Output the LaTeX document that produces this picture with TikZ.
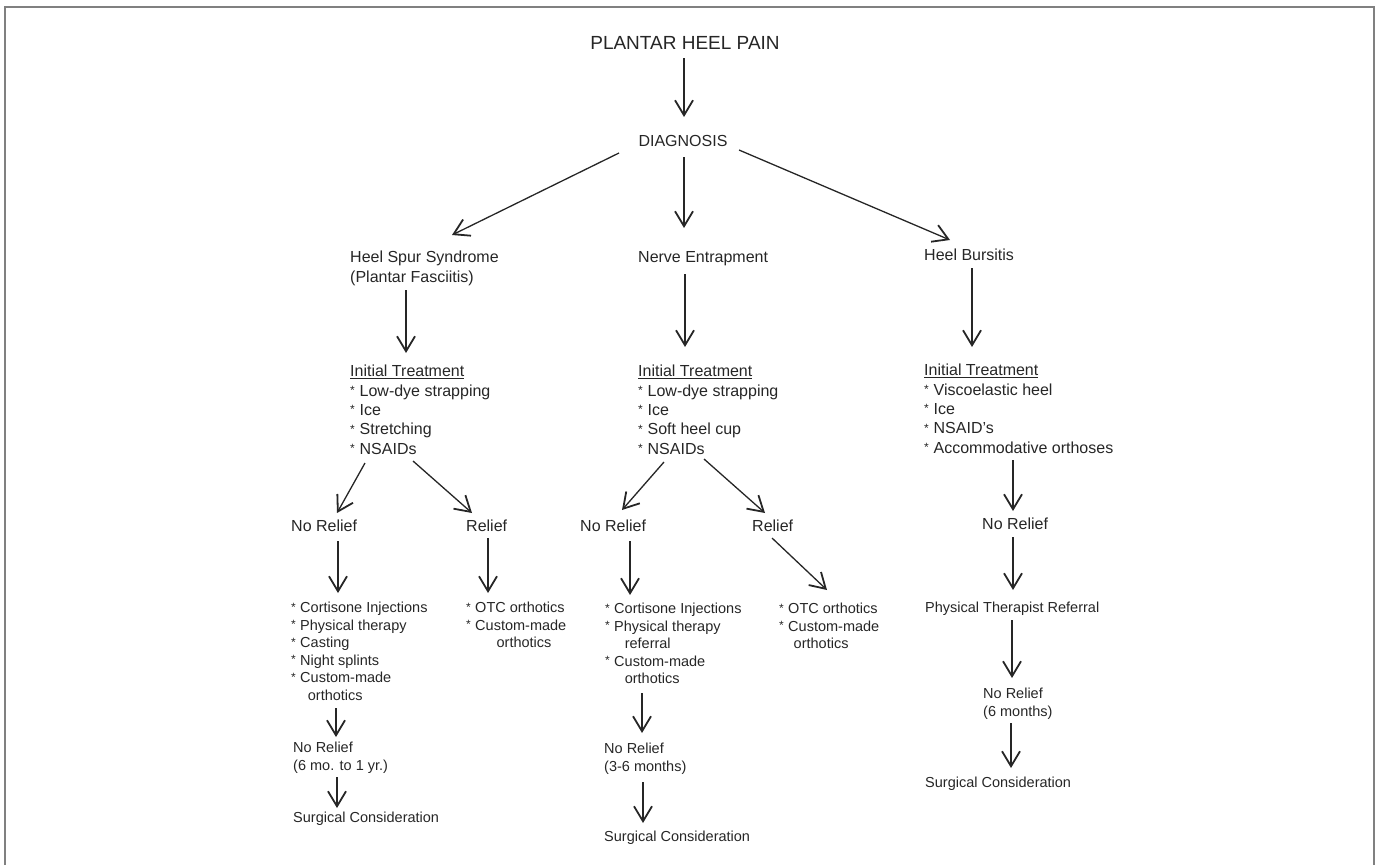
\documentclass[tikz,border=0pt]{standalone}
\usepackage{fontspec}
\setmainfont{Liberation Sans}
\usetikzlibrary{arrows.meta}
\newcommand{\bul}{\raisebox{0.2ex}{\fontsize{12}{12}\selectfont*}\hspace{0.3em}}
\tikzset{
  txt/.style={inner sep=0pt, anchor=north west, align=left, text=black!85},
  big/.style={font=\fontsize{16}{19.3}\selectfont},
  small/.style={font=\fontsize{14.5}{17.5}\selectfont},
  arr/.style={-{Straight Barb[length=15pt,width=18pt,line width=1.8pt]}, line width=1.3pt, black!85},
}
\begin{document}
\begin{tikzpicture}[x=1pt,y=-1pt]
\useasboundingbox (0,0) rectangle (1379,865);
\draw[gray, line width=1.5pt] (5,865) -- (5,7) -- (1374,7) -- (1374,865);
\node [inner sep=0pt, text=black!85, font=\fontsize{19}{22}\selectfont] (pain) at (685,43) {PLANTAR HEEL PAIN};
\node [inner sep=0pt, text=black!85, big] (diag) at (683,141) {DIAGNOSIS};
\node [txt, big] (hs) at (350,251) {Heel Spur Syndrome\\(Plantar Fasciitis)};
\node [txt, big] (ne) at (638,251) {Nerve Entrapment};
\node [txt, big] (hb) at (924,249) {Heel Bursitis};
\node [txt, big] (it1) at (350,365) {\underline{Initial Treatment}\\\bul Low-dye strapping\\\bul Ice\\\bul Stretching\\\bul NSAIDs};
\node [txt, big] (it2) at (638,365) {\underline{Initial Treatment}\\\bul Low-dye strapping\\\bul Ice\\\bul Soft heel cup\\\bul NSAIDs};
\node [txt, big] (it3) at (924,364) {\underline{Initial Treatment}\\\bul Viscoelastic heel\\\bul Ice\\\bul NSAID's\\\bul Accommodative orthoses};
\node [txt, big] (nr1) at (291,520) {No Relief};
\node [txt, big] (r1) at (466,520) {Relief};
\node [txt, big] (nr2) at (580,520) {No Relief};
\node [txt, big] (r2) at (752,520) {Relief};
\node [txt, big] (nr3) at (982,518) {No Relief};
\node [txt, small] (l1) at (291,602) {\bul Cortisone Injections\\\bul Physical therapy\\\bul Casting\\\bul Night splints\\\bul Custom-made\\\hspace*{1.15em}orthotics};
\node [txt, small] (l2) at (466,602) {\bul OTC orthotics\\\bul Custom-made\\\hspace*{2.1em}orthotics};
\node [txt, small] (l3) at (605,603) {\bul Cortisone Injections\\\bul Physical therapy\\\hspace*{1.35em}referral\\\bul Custom-made\\\hspace*{1.35em}orthotics};
\node [txt, small] (l4) at (779,603) {\bul OTC orthotics\\\bul Custom-made\\\hspace*{1em}orthotics};
\node [txt, small] (l5) at (925,602) {Physical Therapist Referral};
\node [txt, small] (nr4) at (293,742) {No Relief\\(6 mo. to 1 yr.)};
\node [txt, small] (nr5) at (604,743) {No Relief\\(3-6 months)};
\node [txt, small] (nr6) at (983,688) {No Relief\\(6 months)};
\node [txt, small] (sc1) at (293,812) {Surgical Consideration};
\node [txt, small] (sc2) at (604,831) {Surgical Consideration};
\node [txt, small] (sc3) at (925,777) {Surgical Consideration};
\draw[arr] ([shift={(-1,15)}]pain.center) -- ([shift={(1,-24)}]diag.center);
\draw[arr] ([shift={(-64,12)}]diag.center) -- ([shift={(102,-16)}]hs.north west);
\draw[arr] ([shift={(1,16)}]diag.center) -- ([shift={(46,-23)}]ne.north west);
\draw[arr] ([shift={(56,9)}]diag.center) -- ([shift={(26,-9)}]hb.north west);
\draw[arr] ([shift={(56,39)}]hs.north west) -- ([shift={(56,-12)}]it1.north west);
\draw[arr] ([shift={(47,23)}]ne.north west) -- ([shift={(47,-18)}]it2.north west);
\draw[arr] ([shift={(48,19)}]hb.north west) -- ([shift={(48,-17)}]it3.north west);
\draw[arr] ([shift={(15,98)}]it1.north west) -- ([shift={(46,-7)}]nr1.north west);
\draw[arr] ([shift={(63,96)}]it1.north west) -- ([shift={(6,-7)}]r1.north west);
\draw[arr] ([shift={(26,97)}]it2.north west) -- ([shift={(42,-10)}]nr2.north west);
\draw[arr] ([shift={(66,94)}]it2.north west) -- ([shift={(13,-7)}]r2.north west);
\draw[arr] ([shift={(89,96)}]it3.north west) -- ([shift={(31,-7)}]nr3.north west);
\draw[arr] ([shift={(47,21)}]nr1.north west) -- ([shift={(47,-9)}]l1.north west);
\draw[arr] ([shift={(22,18)}]r1.north west) -- ([shift={(22,-9)}]l2.north west);
\draw[arr] ([shift={(50,21)}]nr2.north west) -- ([shift={(25,-8)}]l3.north west);
\draw[arr] ([shift={(20,18)}]r2.north west) -- ([shift={(48,-13)}]l4.north west);
\draw[arr] ([shift={(31,19)}]nr3.north west) -- ([shift={(88,-12)}]l5.north west);
\draw[arr] ([shift={(45,106)}]l1.north west) -- ([shift={(43,-5)}]nr4.north west);
\draw[arr] ([shift={(44,35)}]nr4.north west) -- ([shift={(44,-4)}]sc1.north west);
\draw[arr] ([shift={(37,90)}]l3.north west) -- ([shift={(38,-10)}]nr5.north west);
\draw[arr] ([shift={(39,39)}]nr5.north west) -- ([shift={(39,-8)}]sc2.north west);
\draw[arr] ([shift={(87,18)}]l5.north west) -- ([shift={(29,-10)}]nr6.north west);
\draw[arr] ([shift={(28,35)}]nr6.north west) -- ([shift={(86,-9)}]sc3.north west);
\end{tikzpicture}
\end{document}
